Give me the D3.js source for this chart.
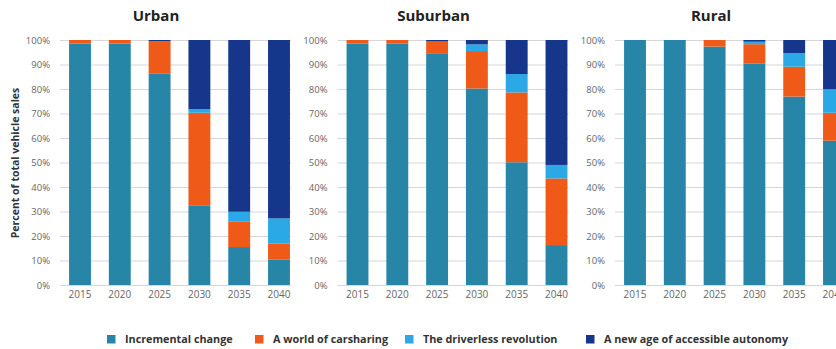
<!DOCTYPE html>
<html>
<head>
<meta charset="utf-8">
<script src="https://cdn.jsdelivr.net/npm/d3@7"></script>
<style>
  html, body { margin: 0; padding: 0; background: #fff; }
  svg { display: block; font-family: "Open Sans", "Noto Sans", sans-serif; }
</style>
</head>
<body>
<svg id="chart" width="836" height="349"></svg>
<script>
// Years on the x axis of every panel
const years = ["2015", "2020", "2025", "2030", "2035", "2040"];

// Scenario names (stack order, bottom to top)
const scenarios = [
  "Incremental change",
  "A world of carsharing",
  "The driverless revolution",
  "A new age of accessible autonomy"
];
const scenarioColors = ["#2786a7", "#f05a18", "#2aa9e6", "#15368a"];

const regions = ["Urban", "Suburban", "Rural"];

// Share of total vehicle sales (%) per scenario, one value per year
const urbanIncremental  = [98.5, 98.5, 86.4, 32.3, 15.5, 10.3];
const urbanCarsharing   = [1.5, 1.5, 13.1, 38.0, 10.3, 6.7];
const urbanDriverless   = [0, 0, 0, 1.5, 4.1, 10.2];
const urbanAutonomy     = [0, 0, 0.5, 28.2, 70.1, 72.8];

const suburbanIncremental = [98.6, 98.6, 94.6, 80.2, 50.1, 16.3];
const suburbanCarsharing  = [1.4, 1.4, 4.8, 15.3, 28.5, 27.2];
const suburbanDriverless  = [0, 0, 0, 2.7, 7.5, 5.5];
const suburbanAutonomy    = [0, 0, 0.6, 1.8, 13.9, 51.0];

const ruralIncremental = [100, 100, 97.3, 90.3, 76.9, 58.9];
const ruralCarsharing  = [0, 0, 2.7, 8.0, 12.2, 11.4];
const ruralDriverless  = [0, 0, 0, 1.0, 5.5, 9.6];
const ruralAutonomy    = [0, 0, 0, 0.7, 5.4, 20.1];

const yTicks = [0, 10, 20, 30, 40, 50, 60, 70, 80, 90, 100];

const seriesByRegion = {
  Urban: [urbanIncremental, urbanCarsharing, urbanDriverless, urbanAutonomy],
  Suburban: [suburbanIncremental, suburbanCarsharing, suburbanDriverless, suburbanAutonomy],
  Rural: [ruralIncremental, ruralCarsharing, ruralDriverless, ruralAutonomy]
};

const svg = d3.select("#chart");

// Shared scales for one panel (panel-local coordinates)
const y = d3.scaleLinear().domain([0, 100]).range([285, 40]);
const x = d3.scaleBand()
  .domain(years)
  .range([60.1, 298.9])
  .paddingInner(0.45)
  .paddingOuter(0.225);
const gridX0 = 60, gridX1 = 291;
const panelStep = 277.5;

regions.forEach((region, ri) => {
  const g = svg.append("g").attr("transform", `translate(${ri * panelStep},0)`);

  // Rows for stacking: one object per year
  const cols = seriesByRegion[region];
  const rows = years.map((yr, i) => {
    const r = { year: yr };
    scenarios.forEach((s, si) => { r[s] = cols[si][i]; });
    return r;
  });
  const stacked = d3.stack().keys(scenarios)(rows);

  // Horizontal grid lines
  g.append("g")
    .selectAll("line")
    .data(yTicks)
    .join("line")
    .attr("x1", gridX0)
    .attr("x2", gridX1)
    .attr("y1", d => y(d) + 0.5)
    .attr("y2", d => y(d) + 0.5)
    .attr("stroke", "#d6d6d6")
    .attr("stroke-width", 1);

  // Y axis labels
  const yAxis = d3.axisLeft(y)
    .tickValues(yTicks)
    .tickFormat(d => d + "%")
    .tickSize(0)
    .tickPadding(0);
  const ya = g.append("g").attr("transform", "translate(50,0)").call(yAxis);
  ya.select(".domain").remove();
  ya.selectAll("text")
    .attr("fill", "#666")
    .style("font-size", "9.5px")
    .style("font-family", "'Open Sans', sans-serif");

  // X axis labels
  const xAxis = d3.axisBottom(x).tickSize(0).tickPadding(0);
  const xa = g.append("g").attr("transform", "translate(0,291)").call(xAxis);
  xa.select(".domain").remove();
  xa.selectAll("text")
    .attr("fill", "#666")
    .style("font-size", "10px")
    .style("font-family", "'Open Sans', sans-serif");

  // Stacked bars
  g.append("g")
    .selectAll("g")
    .data(stacked)
    .join("g")
    .attr("fill", (d, i) => scenarioColors[i])
    .selectAll("rect")
    .data(d => d)
    .join("rect")
    .attr("x", d => x(d.data.year))
    .attr("width", x.bandwidth())
    .attr("y", d => y(d[1]))
    .attr("height", d => y(d[0]) - y(d[1]));

  // Panel title
  g.append("text")
    .attr("x", 156)
    .attr("y", 20.5)
    .attr("text-anchor", "middle")
    .attr("fill", "#222")
    .style("font-size", "15px")
    .style("font-weight", "bold")
    .text(region);
});

// Y axis title
svg.append("text")
  .attr("transform", "translate(19,163) rotate(-90)")
  .attr("text-anchor", "middle")
  .attr("fill", "#333")
  .style("font-size", "10.5px")
  .style("font-weight", "bold")
  .text("Percent of total vehicle sales");

// Legend
const legendX = [107, 255, 405, 586];
const legend = svg.append("g");
const items = legend.selectAll("g")
  .data(scenarios)
  .join("g")
  .attr("transform", (d, i) => `translate(${legendX[i]},335)`);
items.append("rect")
  .attr("width", 8.5)
  .attr("height", 8.5)
  .attr("fill", (d, i) => scenarioColors[i]);
items.append("text")
  .attr("x", 18)
  .attr("y", 8)
  .attr("fill", "#333")
  .style("font-size", "10.8px")
  .style("font-weight", "bold")
  .text(d => d);
</script>
</body>
</html>
